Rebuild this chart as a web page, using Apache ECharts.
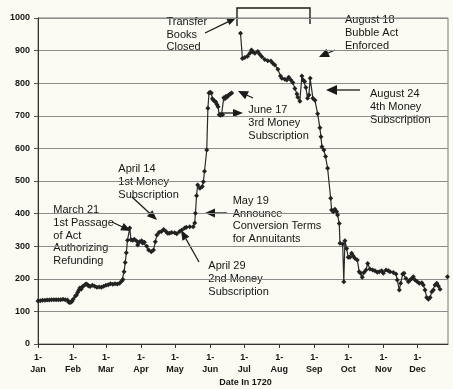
<!DOCTYPE html>
<html>
<head>
<meta charset="utf-8">
<script src="https://cdn.jsdelivr.net/npm/echarts@6/dist/echarts.min.js"></script>
<style>
html,body{margin:0;padding:0;background:#fbfbf3;}
#c{width:453px;height:389px;}
</style>
</head>
<body>
<div id="c"></div>
<script>
// Day of year 1720 (0 = 1 Jan) and South Sea stock price
var days = [0,2,4,6,8,10,12,14,16,18,20,22,24,26,27,28,29,30,31,33,34,35,36,37,38,39,40,42,43,44,45,46,48,50,52,54,56,58,60,62,64,66,68,70,72,74,75,76,77,78,79,81,82,83.6,85,87,88,89.7,91.5,92.4,94,96,97.7,100,102,103.6,105,107,109,111,113,114.5,116,118,120.7,122.5,125,127,129.5,131,134,137,138.4,139,140,141,143,145,146,147,149,150,151,152,153,154,155,156,157,158,159,160,161,162,163,164,165,166,167,168,169,170,171,
  174,178.8,180.5,182.6,185,187,188.5,189.7,191.5,194,195.8,197.6,200.2,202.9,205.6,207.3,209.1,211.8,214.1,215.3,217.9,219.7,221.4,223.3,225,226.8,228.6,229.4,231.2,233,234.1,235.4,236.5,238,239.2,240.3,242.7,244.5,246.9,248.9,249.8,250.7,252.4,253.9,255.7,258.4,259.2,260.7,262.2,263.7,264.5,266,266.6,269,270,271,272.5,273.9,275.4,276.9,278.3,279.8,281.9,283.6,284.9,286.3,287.8,289.6,291.1,293.1,295.5,297.5,299.6,301.3,303.4,304.9,307.3,309.3,310.8,313.7,316.1,317.2,319,320.2,322,323.2,324.9,327,328.5,330,331.4,332.9,334.9,336.7,338.8,340.2,341.7,343.2,344.7,346.2,347.7,349.1,350.6,352.1,353.5,355,358,361.5];
var prices = [132,133,134,134,135,135,136,136,136,136,136,137,136,135,129,127,128,131,137,147,150,158,165,172,168,175,178,183,184,180,178,176,180,177,174,175,174,177,180,182,185,183,185,184,186,193,198,222,250,280,318,356,320,318,321,316,304,314,317,310,312,300,288,283,288,314,334,343,345,351,345,340,340,342,341,338,345,350,356,358,360,360,371,401,455,488,478,483,498,530,595,723,770,772,770,752,748,745,742,735,728,703,702,703,703,755,752,760,758,762,765,768,770,
  null,953,876,879,883,892,902,896,892,897,889,881,873,869,868,861,856,843,822,815,812,810,818,810,802,784,767,757,745,822,810,805,787,754,764,815,754,748,706,663,636,605,595,575,539,447,411,406,413,406,396,370,309,307,191,317,293,266,266,278,270,263,258,222,217,205,219,227,247,230,227,225,220,222,225,217,227,225,222,219,215,196,166,186,215,217,201,191,196,201,206,196,191,186,188,181,166,143,137,143,160,166,181,186,178,168,null,206];
var monthStarts = [0,31,60,91,121,152,182,213,244,274,305,335];
var monthNames = ['Jan','Feb','Mar','Apr','May','Jun','Jul','Aug','Sep','Oct','Nov','Dec'];
var yTicks = [0,100,200,300,400,500,600,700,800,900,1000];

var seriesData = days.map(function(d,i){ return [d, prices[i]]; });

var chart = echarts.init(document.getElementById('c'));

function arrow(x1,y1,x2,y2,len,wid){
  len = len || 9; wid = wid || 7;
  var dx = x2-x1, dy = y2-y1, L = Math.sqrt(dx*dx+dy*dy);
  var ux = dx/L, uy = dy/L, px = -uy, py = ux;
  var bx = x2-ux*len, by = y2-uy*len;
  return [
    {type:'line', shape:{x1:x1,y1:y1,x2:bx,y2:by}, style:{stroke:'#1a1a1a',lineWidth:1.3}},
    {type:'polygon', shape:{points:[[x2,y2],[bx+px*wid/2,by+py*wid/2],[bx-px*wid/2,by-py*wid/2]]}, style:{fill:'#1a1a1a'}}
  ];
}
function note(x,top,txt){
  return {type:'text', x:x, y:top, style:{text:txt, fontFamily:'Liberation Sans, Arial, sans-serif', fontSize:11, lineHeight:12.8, fill:'#151515', textVerticalAlign:'top', textAlign:'left'}};
}

var g = [];
g.push(note(166.5,15.3,'Transfer\nBooks\nClosed'));
g.push(note(345,13.6,'August 18\nBubble Act\nEnforced'));
g.push(note(370,88,'August 24\n4th Money\nSubscription'));
g.push(note(248.3,103.6,'June 17\n3rd Money\nSubscription'));
g.push(note(232.7,194.3,'May 19\nAnnounce\nConversion Terms\nfor Annuitants'));
g.push(note(208.3,259.6,'April 29\n2nd Money\nSubscription'));
g.push(note(118.3,163,'April 14\n1st Money\nSubscription'));
g.push(note(53.3,203.6,'March 21\n1st Passage\nof Act\nAuthorizing\nRefunding'));
g = g.concat(arrow(205,33,236,18));
g = g.concat(arrow(335,50,319,57,10,9));
g = g.concat(arrow(360,90,326,90,11,10));
g = g.concat(arrow(219,113,243,113,10,8));
g = g.concat(arrow(253,98,238,91,10,9));
g = g.concat(arrow(227,213,205,213,10,9));
g = g.concat(arrow(199,262,181,230,10,8));
g = g.concat(arrow(132,197,157,220,10,8));
g = g.concat(arrow(112,222,131,231,10,8));
g.push({type:'polyline', shape:{points:[[237,26],[237,8],[310,8],[310,24]]}, style:{stroke:'#1a1a1a',lineWidth:1.4,fill:null}});
g.push({type:'text', x:245.5, y:383, style:{text:'Date In 1720', fontFamily:'Liberation Sans, Arial, sans-serif', fontSize:9, fontWeight:'bold', fill:'#151515', textAlign:'center', textVerticalAlign:'middle'}});

chart.setOption({
  backgroundColor:'#fbfbf3',
  animation:false,
  grid:{left:38, right:5, top:18, bottom:45, show:true, borderColor:'#777', borderWidth:1},
  xAxis:{
    type:'value', min:0, max:362,
    splitLine:{show:false},
    axisLine:{show:true, onZero:false, lineStyle:{color:'#333', width:1}},
    axisTick:{show:true, customValues:monthStarts, length:4, lineStyle:{color:'#333'}},
    axisLabel:{customValues:monthStarts, margin:8, fontSize:9, fontWeight:'bold', lineHeight:12, color:'#151515', fontFamily:'Liberation Sans, Arial, sans-serif',
      formatter:function(v){ var i = monthStarts.indexOf(Math.round(v)); return i>=0 ? '1-\n'+monthNames[i] : ''; }}
  },
  yAxis:{
    type:'value', min:0, max:1000, interval:100,
    axisLine:{show:true, lineStyle:{color:'#333', width:1}},
    axisTick:{show:true, length:4, lineStyle:{color:'#555'}},
    splitLine:{show:true, lineStyle:{color:'#8c8c8c', width:1}},
    axisLabel:{margin:8, fontSize:9, fontWeight:'bold', color:'#151515', fontFamily:'Liberation Sans, Arial, sans-serif',
      formatter:function(v){ return yTicks.indexOf(v)>=0 ? String(v) : ''; }}
  },
  series:[{
    type:'line', data:seriesData, connectNulls:false,
    symbol:'diamond', symbolSize:5, showSymbol:true,
    lineStyle:{color:'#2a2a2a', width:1.2},
    itemStyle:{color:'#222'}
  }],
  graphic:g
});
</script>
</body>
</html>
